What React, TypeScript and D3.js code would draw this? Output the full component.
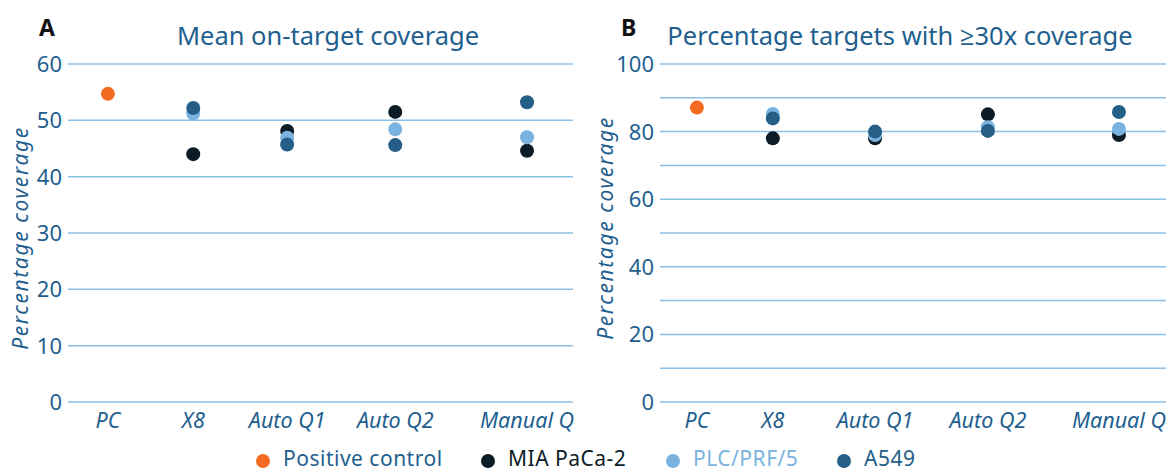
import * as d3 from "d3";

const WIDTH = 1166;
const HEIGHT = 473;

const categories = ["PC", "X8", "Auto Q1", "Auto Q2", "Manual Q"];
// where each category sits along the panel (fraction of plot width), uneven in the original
const CAT_POS_A = [0.079, 0.248, 0.434, 0.648, 0.909];
const CAT_POS_B = [0.073, 0.223, 0.425, 0.648, 0.907];

const seriesNames = ["Positive control", "MIA PaCa-2", "PLC/PRF/5", "A549"];
const seriesColors = ["#f26b21", "#0b1c26", "#7ab3e0", "#255e87"];
const legendTextColors = ["#1f5f8f", "#0b1c26", "#7ab3e0", "#255e87"];

// panel A: mean on-target coverage (null = not measured)
const meanPositive = [54.7, null, null, null, null];
const meanMIA = [null, 44.0, 48.1, 51.5, 44.6];
const meanPLC = [null, 51.2, 46.9, 48.4, 47.0];
const meanA549 = [null, 52.2, 45.7, 45.6, 53.2];

// panel B: percentage targets with >=30x coverage
const pctPositive = [87.1, null, null, null, null];
const pctMIA = [null, 78.0, 78.0, 85.1, 79.0];
const pctPLC = [null, 85.2, 79.0, 81.3, 80.8];
const pctA549 = [null, 83.9, 80.0, 80.2, 85.8];

const ticksA = [0, 10, 20, 30, 40, 50, 60];
const gridB = [0, 10, 20, 30, 40, 50, 60, 70, 80, 90, 100];
const ticksB = [0, 20, 40, 60, 80, 100];

const TEXT_BLUE = "#1f5f8f";
const GRID = "#8cc0e6";
const FONT = "'Noto Sans', 'Open Sans', sans-serif";

type Series = (number | null)[];

interface PanelProps {
  left: number;
  right: number;
  letter: string;
  title: string;
  titleX: number;
  letterX: number;
  yLabelX: number;
  yLabelY: number;
  max: number;
  grid: number[];
  ticks: number[];
  catPos: number[];
  series: Series[];
}

const TOP = 64;
const BOTTOM = 402;

function Panel(p: PanelProps) {
  const { left, right, max, catPos, series } = p;
  const y = d3.scaleLinear().domain([0, max]).range([BOTTOM, TOP]);
  const x = d3
    .scaleLinear()
    .domain(d3.range(categories.length))
    .range(catPos.map((f) => left + f * (right - left)));

  return (
    <g>
      <text x={p.letterX} y={36} fontFamily={FONT} fontWeight={700} fontSize={23} fill="#111">
        {p.letter}
      </text>
      <text x={p.titleX} y={45} fontFamily={FONT} fontSize={25.5} fill={TEXT_BLUE} textAnchor="middle">
        {p.title}
      </text>
      {p.grid.map((t) => (
        <line key={t} x1={left} x2={right} y1={y(t)} y2={y(t)} stroke={GRID} strokeWidth={1.5} />
      ))}
      {p.ticks.map((t) => (
        <text
          key={t}
          x={left - 6}
          y={y(t) + 8}
          textAnchor="end"
          fontFamily={FONT}
          fontSize={22}
          fill={TEXT_BLUE}
        >
          {t}
        </text>
      ))}
      <text
        transform={`translate(${p.yLabelX},${p.yLabelY}) rotate(-90)`}
        textAnchor="middle"
        fontFamily={FONT}
        fontStyle="italic"
        fontSize={21}
        letterSpacing={1.6}
        fill={TEXT_BLUE}
      >
        Percentage coverage
      </text>
      {categories.map((c, i) => (
        <text
          key={c}
          x={x(i)}
          y={428}
          textAnchor="middle"
          fontFamily={FONT}
          fontStyle="italic"
          fontSize={21.5}
          fill={TEXT_BLUE}
        >
          {c}
        </text>
      ))}
      {series.map((s, si) =>
        s.map((v, i) =>
          v == null ? null : (
            <circle key={`${si}-${i}`} cx={x(i)} cy={y(v)} r={7} fill={seriesColors[si]} />
          )
        )
      )}
    </g>
  );
}

const LEGEND_X = [263, 488, 673, 844];

export default function App() {
  return (
    <svg
      width={WIDTH}
      height={HEIGHT}
      style={{ position: "absolute", left: 0, top: 0, background: "#fff" }}
    >
      <Panel
        left={68}
        right={573}
        letter="A"
        letterX={39}
        title="Mean on-target coverage"
        titleX={328}
        yLabelX={28}
        yLabelY={238}
        max={60}
        grid={ticksA}
        ticks={ticksA}
        catPos={CAT_POS_A}
        series={[meanPositive, meanMIA, meanPLC, meanA549]}
      />
      <Panel
        left={660}
        right={1166}
        letter="B"
        letterX={621}
        title="Percentage targets with ≥30x coverage"
        titleX={900}
        yLabelX={613}
        yLabelY={228}
        max={100}
        grid={gridB}
        ticks={ticksB}
        catPos={CAT_POS_B}
        series={[pctPositive, pctMIA, pctPLC, pctA549]}
      />
      {seriesNames.map((n, i) => (
        <g key={n} transform={`translate(${LEGEND_X[i]},461)`}>
          <circle r={7} fill={seriesColors[i]} />
          <text
            x={20}
            y={5}
            fontFamily={FONT}
            fontSize={21}
            letterSpacing={0.5}
            fill={legendTextColors[i]}
          >
            {n}
          </text>
        </g>
      ))}
    </svg>
  );
}
